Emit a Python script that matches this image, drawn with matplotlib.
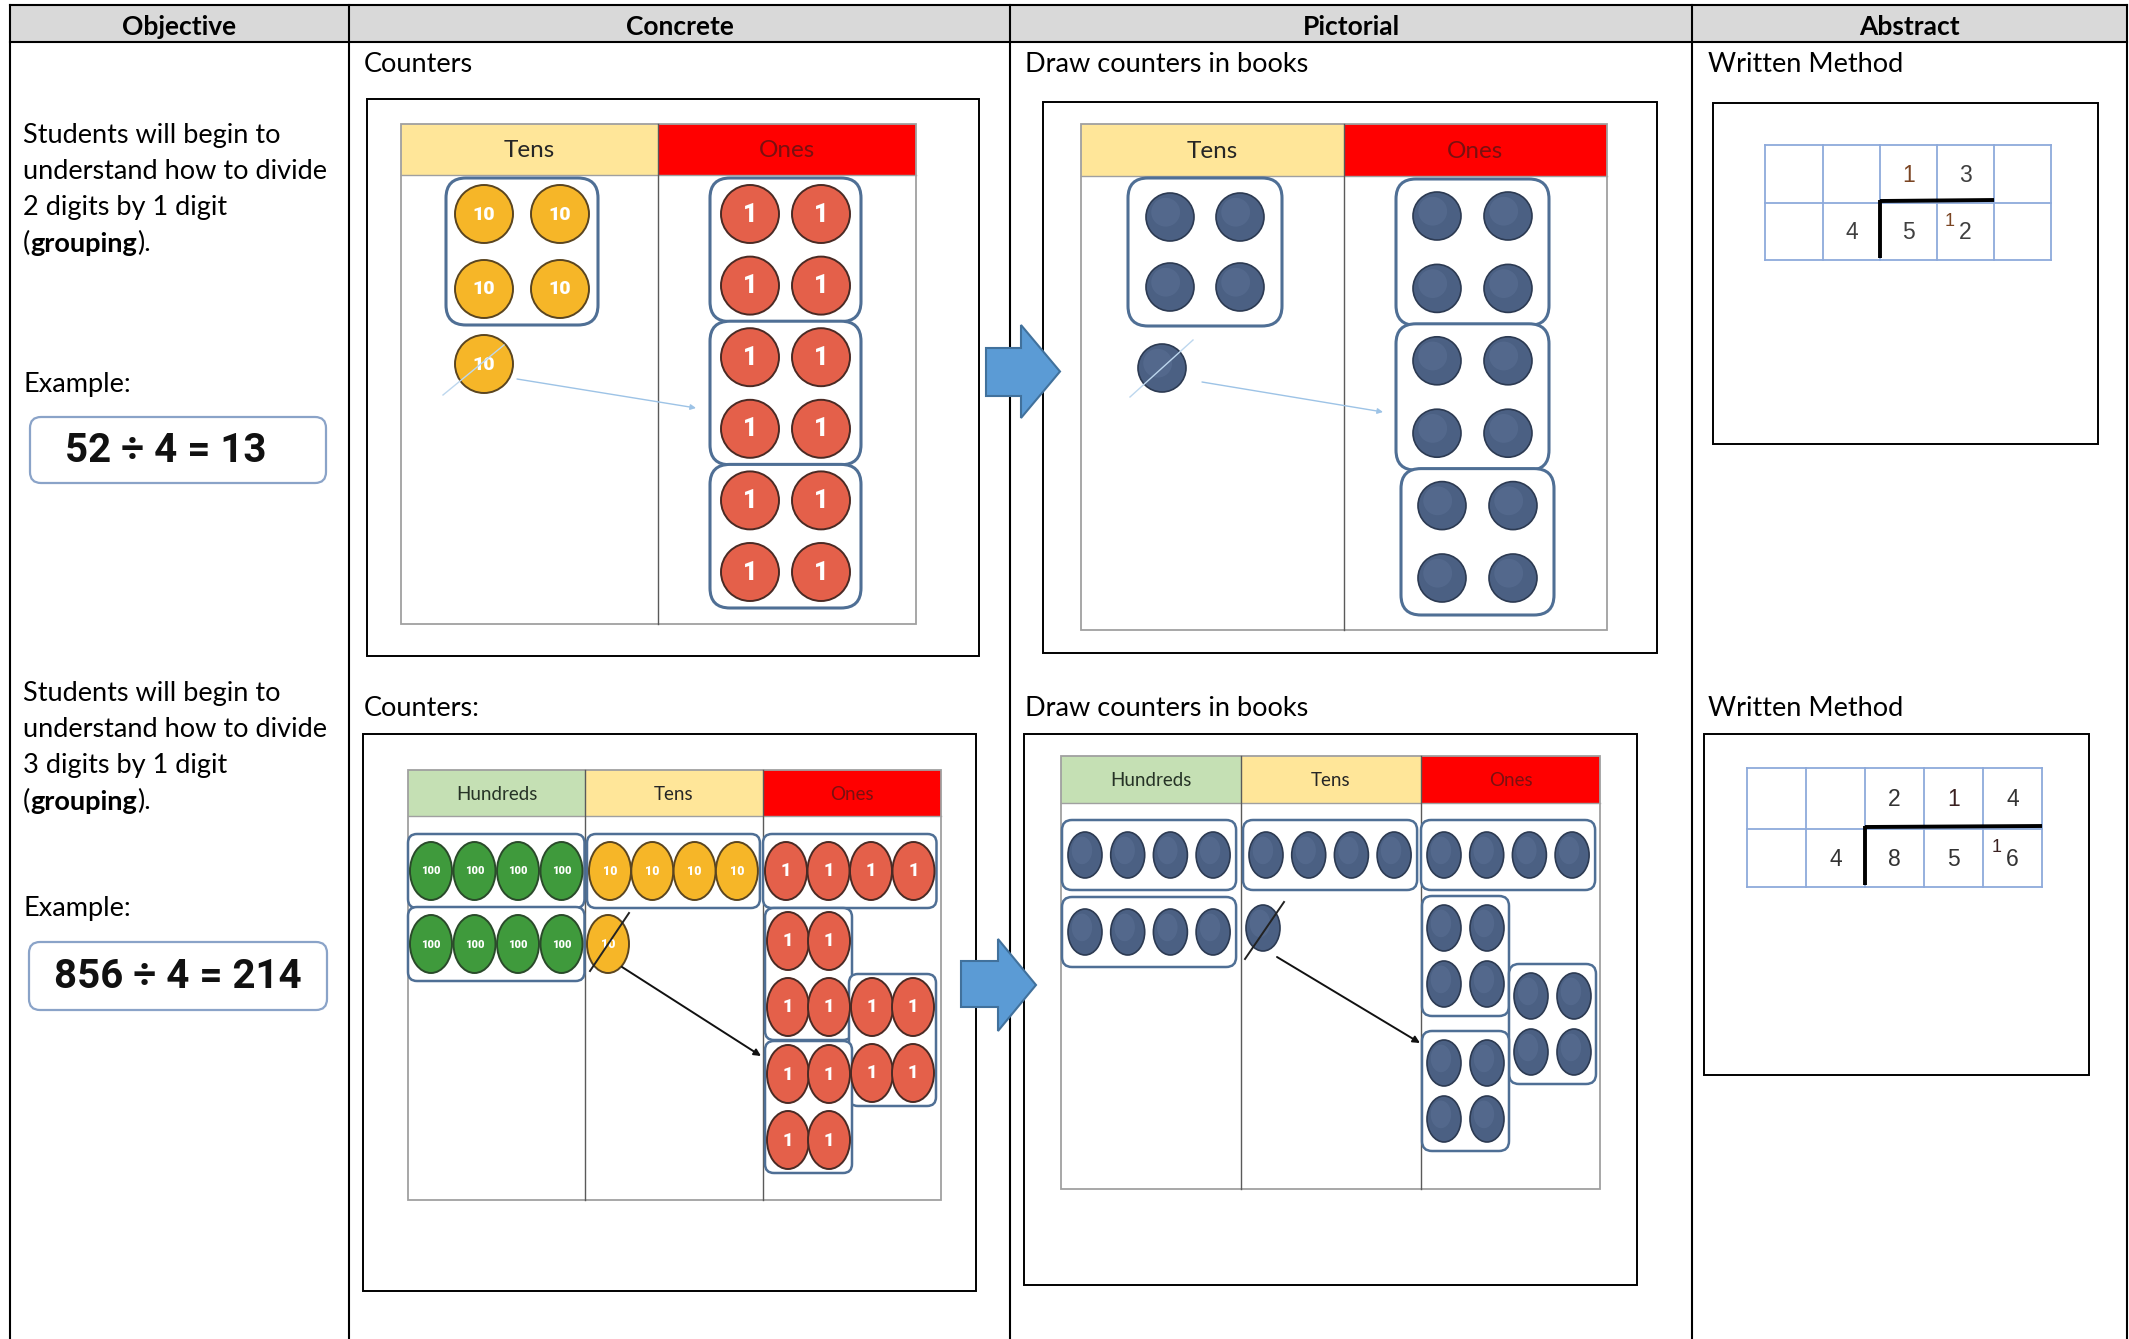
import matplotlib
matplotlib.use('Agg')
import matplotlib.pyplot as plt
from matplotlib.patches import Rectangle, Ellipse, FancyBboxPatch, Polygon, FancyArrowPatch

# ---------------- data ----------------
headers = ["Objective", "Concrete", "Pictorial", "Abstract"]
objective_lines_1 = ["Students will begin to", "understand how to divide", "2 digits by 1 digit"]
objective_lines_2 = ["Students will begin to", "understand how to divide", "3 digits by 1 digit"]
grouping_word = "grouping"
example_label = "Example:"
equations = ["52 \u00f7 4 = 13", "856 \u00f7 4 = 214"]
concrete_captions = ["Counters", "Counters:"]
pictorial_caption = "Draw counters in books"
abstract_caption = "Written Method"
place_values_1 = ["Tens", "Ones"]
place_values_2 = ["Hundreds", "Tens", "Ones"]
counter_labels = {"Hundreds": "100", "Tens": "10", "Ones": "1"}
# 52 / 4 : 4 tens grouped, 1 ten exchanged, 12 ones in 3 groups of 4
ex1_tens_grouped = 4
ex1_tens_exchanged = 1
ex1_ones_groups = [4, 4, 4]
# 856 / 4 : 2 groups of 4 hundreds, 1 group of 4 tens, 1 exchanged, 16 ones
ex2_hundreds_groups = [4, 4]
ex2_tens_groups = [4]
ex2_tens_exchanged = 1
ex2_ones_row = [4]
ex2_ones_groups = [4, 4, 4]
quotient_1 = ["", "", "1", "3", ""]
dividend_1 = ["", "4", "5", "2", ""]
carry_1 = ["", "", "", "1", ""]
quotient_2 = ["", "", "2", "1", "4"]
dividend_2 = ["", "4", "8", "5", "6"]
carry_2 = ["", "", "", "", "1"]

# ---------------- style ----------------
plt.rcParams['font.family'] = ['Lato', 'DejaVu Sans']
HEAD_FILL = '#d9d9d9'
PV_FILL = {"Hundreds": '#c5e0b4', "Tens": '#ffe699', "Ones": '#ff0000'}
PV_TEXT = {"Hundreds": '#263326', "Tens": '#262626', "Ones": '#7a1010'}
C_FILL = {"Hundreds": '#3f9a3c', "Tens": '#f6b628', "Ones": '#e4604a'}
C_EDGE = {"Hundreds": '#2a4a2a', "Tens": '#5a4520', "Ones": '#4a2a24'}
DOT_FILL = '#4b6083'
DOT_EDGE = '#2c3a52'
GROUP_EDGE = '#4f6f95'
GRID_BLUE = '#8eaadb'
LABEL_FONT = ['Roboto', 'DejaVu Sans']

W, H = 2129, 1339
fig = plt.figure(figsize=(W / 100, H / 100), dpi=100)
ax = fig.add_axes([0, 0, 1, 1])
ax.set_xlim(0, W)
ax.set_ylim(H, 0)
ax.axis('off')

# ---------------- main table ----------------
col_x = [9.5, 349, 1010, 1692, 2127]
head_top, head_bot = 5, 42
ax.add_patch(Rectangle((col_x[0], head_top), col_x[-1] - col_x[0], head_bot - head_top,
                       fc=HEAD_FILL, ec='none', zorder=0))
ax.plot([col_x[0], col_x[-1]], [head_top, head_top], color='black', lw=1.5)
ax.plot([col_x[0], col_x[-1]], [head_bot, head_bot], color='black', lw=1.5)
for x in col_x:
    ax.plot([x, x], [head_top, H], color='black', lw=1.5)
for i, h in enumerate(headers):
    ax.text((col_x[i] + col_x[i + 1]) / 2, 35, h, ha='center', va='baseline',
            fontsize=19, fontweight='bold')

BODY_FS = 19.5


def objective(lines, y0, ex_y, box, eq, eq_x):
    step = 36
    for k, ln in enumerate(lines):
        ax.text(23, y0 + k * step, ln, ha='left', va='baseline', fontsize=BODY_FS)
    yb = y0 + len(lines) * step
    t1 = ax.text(23, yb, "(", ha='left', va='baseline', fontsize=BODY_FS)
    t2 = ax.annotate(grouping_word, xy=(1, 0), xycoords=t1, ha='left', va='bottom',
                     fontsize=BODY_FS, fontweight='bold')
    ax.annotate(").", xy=(1, 0), xycoords=t2, ha='left', va='bottom', fontsize=BODY_FS)
    ax.text(23, ex_y, example_label, ha='left', va='baseline', fontsize=BODY_FS)
    x0, y0b, x1, y1b = box
    ax.add_patch(FancyBboxPatch((x0, y0b), x1 - x0, y1b - y0b,
                                boxstyle="round,pad=0,rounding_size=11",
                                ec='#8aa3c8', fc='white', lw=1.6))
    ax.text(eq_x, (y0b + y1b) / 2 + 1, eq, ha='center', va='center', fontsize=29,
            family=LABEL_FONT, fontweight='semibold', color='#111111')


objective(objective_lines_1, 143, 392, (30, 417, 326, 483), equations[0], 166)
objective(objective_lines_2, 701, 916, (29, 942, 327, 1010), equations[1], 178)

# captions
for y in (72, 716):
    ax.text(1025, y, pictorial_caption, ha='left', va='baseline', fontsize=BODY_FS)
    ax.text(1708, y, abstract_caption, ha='left', va='baseline', fontsize=BODY_FS)
ax.text(364, 72, concrete_captions[0], ha='left', va='baseline', fontsize=BODY_FS)
ax.text(364, 716, concrete_captions[1], ha='left', va='baseline', fontsize=BODY_FS)


def frame(x0, y0, x1, y1):
    ax.add_patch(Rectangle((x0, y0), x1 - x0, y1 - y0, fc='white', ec='black', lw=1.4, zorder=1))


def pv_table(edges, y_top, y_head, y_bot, names, fs):
    for i, n in enumerate(names):
        ax.add_patch(Rectangle((edges[i], y_top), edges[i + 1] - edges[i], y_head - y_top,
                               fc=PV_FILL[n], ec='none', zorder=2))
        ax.text((edges[i] + edges[i + 1]) / 2, (y_top + y_head) / 2 + 1, n, ha='center',
                va='center', fontsize=fs, color=PV_TEXT[n], zorder=3)
    ax.add_patch(Rectangle((edges[0], y_top), edges[-1] - edges[0], y_bot - y_top,
                           fc='none', ec='#a0a0a0', lw=1.3, zorder=3))
    ax.plot([edges[0], edges[-1]], [y_head, y_head], color='#a0a0a0', lw=1.0, zorder=3)
    for x in edges[1:-1]:
        ax.plot([x, x], [y_top, y_bot], color='#5a5a5a', lw=1.0, zorder=3)


def counter(x, y, rx, ry, kind, fs, pictorial=False):
    if pictorial:
        ax.add_patch(Ellipse((x, y), 2 * rx, 2 * ry, fc=DOT_FILL, ec=DOT_EDGE, lw=1.2, zorder=5))
        ax.add_patch(Ellipse((x - rx * 0.18, y - ry * 0.2), 1.2 * rx, 1.2 * ry, fc='#5a7095',
                             ec='none', alpha=0.55, zorder=5))
    else:
        ax.add_patch(Ellipse((x, y), 2 * rx, 2 * ry, fc=C_FILL[kind], ec=C_EDGE[kind], lw=1.4, zorder=5))
        ax.text(x, y + 0.5, counter_labels[kind], ha='center', va='center', fontsize=fs,
                color='white', fontweight='heavy', family=LABEL_FONT, zorder=6)


def group_box(pts, rx, ry, padx, pady, r, lw=1.8):
    xs = [p[0] for p in pts]
    ys = [p[1] for p in pts]
    x0 = min(xs) - rx - padx
    x1 = max(xs) + rx + padx
    y0 = min(ys) - ry - pady
    y1 = max(ys) + ry + pady
    ax.add_patch(FancyBboxPatch((x0, y0), x1 - x0, y1 - y0,
                                boxstyle=f"round,pad=0,rounding_size={r}",
                                ec=GROUP_EDGE, fc='white', lw=lw, zorder=4))


def block_arrow(x0, xb, yb0, yb1, yh0, yh1, tipx):
    tipy = (yh0 + yh1) / 2
    pts = [(x0, yb0), (xb, yb0), (xb, yh0), (tipx, tipy), (xb, yh1), (xb, yb1), (x0, yb1)]
    ax.add_patch(Polygon(pts, closed=True, fc='#5b9bd5', ec='#41719c', lw=1.5, zorder=8))


def line_arrow(p0, p1, color, lw, ms):
    ax.add_patch(FancyArrowPatch(p0, p1, arrowstyle='-|>', mutation_scale=ms, color=color,
                                 lw=lw, zorder=7, shrinkA=0, shrinkB=0))


# ================= Row 1 concrete =================
frame(367, 99, 979, 656)
pv_table([401, 658, 916], 124, 175, 624, place_values_1, 17.5)
R1 = 29
pts = []
for i in range(ex1_tens_grouped):
    pts.append((484 + (i % 2) * 76, 214 + (i // 2) * 75))
group_box(pts, R1, R1, 9, 7, 20, 2.2)
for p in pts:
    counter(p[0], p[1], R1, R1, "Tens", 14)
for j in range(ex1_tens_exchanged):
    counter(484, 214 + 2 * 75 + j * 75, R1, R1, "Tens", 14)
ax.plot([443, 504], [395, 345], color='#bdd7ee', lw=1.0, zorder=7)
line_arrow((517, 379), (696, 408), '#9dc3e6', 1.0, 8)
for g, n in enumerate(ex1_ones_groups):
    pts = [(750 + (i % 2) * 71, 214 + (2 * g + i // 2) * 71.6) for i in range(n)]
    group_box(pts, R1, R1, 11, 7, 20, 2.2)
    for p in pts:
        counter(p[0], p[1], R1, R1, "Ones", 18)

# ================= Row 1 pictorial =================
frame(1043, 102, 1657, 653)
pv_table([1081, 1344, 1607], 124, 176, 630, place_values_1, 17.5)
R2 = 24
pts = [(1170 + (i % 2) * 70, 217 + (i // 2) * 70) for i in range(ex1_tens_grouped)]
group_box(pts, R2, R2, 18, 15, 20, 2.2)
for p in pts:
    counter(p[0], p[1], R2, R2, "Tens", 0, pictorial=True)
for j in range(ex1_tens_exchanged):
    counter(1162, 368 + j * 70, R2, R2, "Tens", 0, pictorial=True)
ax.plot([1130, 1193], [397, 340], color='#bdd7ee', lw=1.0, zorder=7)
line_arrow((1202, 382), (1383, 412), '#9dc3e6', 1.0, 8)
for g, n in enumerate(ex1_ones_groups):
    xoff = 5 if g == 2 else 0
    pts = [(1437 + xoff + (i % 2) * 71, 216 + (2 * g + i // 2) * 72.4) for i in range(n)]
    group_box(pts, R2, R2, 17, 13, 20, 2.2)
    for p in pts:
        counter(p[0], p[1], R2, R2, "Ones", 0, pictorial=True)

block_arrow(986, 1021, 348, 396, 325, 418, 1060)

# ================= Row 2 concrete =================
frame(363, 734, 976, 1291)
pv_table([408, 585, 763, 941], 770, 816, 1200, place_values_2, 13.5)
RX, RY = 21, 29
PX = 43.5
for r, n in enumerate(ex2_hundreds_groups):
    pts = [(431 + i * PX, 871 + r * 73) for i in range(n)]
    group_box(pts, RX, RY, 2, 8, 9)
    for p in pts:
        counter(p[0], p[1], RX, RY, "Hundreds", 8)
for r, n in enumerate(ex2_tens_groups):
    pts = [(610 + i * 42.3, 871 + r * 73) for i in range(n)]
    group_box(pts, RX, RY, 2, 8, 9)
    for p in pts:
        counter(p[0], p[1], RX, RY, "Tens", 9)
for j in range(ex2_tens_exchanged):
    counter(608, 944, RX, RY, "Tens", 9)
ax.plot([590, 629], [971, 913], color='#222222', lw=1.4, zorder=7)
line_arrow((622, 967), (761, 1056), '#111111', 1.4, 10)
for r, n in enumerate(ex2_ones_row):
    pts = [(786 + i * 42.5, 871 + r * 73) for i in range(n)]
    group_box(pts, RX, RY, 2, 8, 9)
    for p in pts:
        counter(p[0], p[1], RX, RY, "Ones", 13)
ones2_starts = [(788, 941), (872, 1007), (788, 1074)]
for (sx, sy), n in zip(ones2_starts, ex2_ones_groups):
    pts = [(sx + (i % 2) * 41, sy + (i // 2) * 66) for i in range(n)]
    group_box(pts, RX, RY, 2, 4, 9)
    for p in pts:
        counter(p[0], p[1], RX, RY, "Ones", 13)

# ================= Row 2 pictorial =================
frame(1024, 734, 1637, 1285)
pv_table([1061, 1241, 1421, 1600], 756, 803, 1189, place_values_2, 13.5)
DX, DY = 17, 23
for r, n in enumerate(ex2_hundreds_groups):
    pts = [(1085 + i * 42.7, 855 + r * 77) for i in range(n)]
    group_box(pts, DX, DY, 6, 12, 10)
    for p in pts:
        counter(p[0], p[1], DX, DY, "Hundreds", 0, pictorial=True)
for r, n in enumerate(ex2_tens_groups):
    pts = [(1266 + i * 42.7, 855 + r * 77) for i in range(n)]
    group_box(pts, DX, DY, 6, 12, 10)
    for p in pts:
        counter(p[0], p[1], DX, DY, "Tens", 0, pictorial=True)
for j in range(ex2_tens_exchanged):
    counter(1263, 928, DX, DY, "Tens", 0, pictorial=True)
ax.plot([1245, 1284], [959, 902], color='#222222', lw=1.4, zorder=7)
line_arrow((1277, 957), (1420, 1043), '#111111', 1.4, 10)
for r, n in enumerate(ex2_ones_row):
    pts = [(1444 + i * 42.7, 855 + r * 77) for i in range(n)]
    group_box(pts, DX, DY, 6, 12, 10)
    for p in pts:
        counter(p[0], p[1], DX, DY, "Ones", 0, pictorial=True)
ones2p_starts = [(1444, 928), (1531, 996), (1444, 1063)]
for (sx, sy), n in zip(ones2p_starts, ex2_ones_groups):
    pts = [(sx + (i % 2) * 43, sy + (i // 2) * 56) for i in range(n)]
    group_box(pts, DX, DY, 5, 9, 10)
    for p in pts:
        counter(p[0], p[1], DX, DY, "Ones", 0, pictorial=True)

block_arrow(961, 998, 961, 1007, 939, 1031, 1036)


# ================= Abstract =================
def written(frame_box, xs, ys, quotient, dividend, carry, bracket_end, one_color, col):
    frame(*frame_box)
    for x in xs:
        ax.plot([x, x], [ys[0], ys[-1]], color=GRID_BLUE, lw=1.3, zorder=3)
    for y in ys:
        ax.plot([xs[0], xs[-1]], [y, y], color=GRID_BLUE, lw=1.3, zorder=3)
    for i in range(len(xs) - 1):
        cx = (xs[i] + xs[i + 1]) / 2
        for row, vals in enumerate((quotient, dividend)):
            cy = (ys[row] + ys[row + 1]) / 2
            if vals[i]:
                ax.text(cx, cy + 1, vals[i], ha='center', va='center', fontsize=16.5,
                        family=['Liberation Sans', 'DejaVu Sans'],
                        color=one_color if vals[i] == "1" else col, zorder=4)
        if carry[i]:
            cy = (ys[1] + ys[2]) / 2
            ax.text(cx - 16, cy - 10, carry[i], ha='center', va='center', fontsize=13,
                    family=['Liberation Sans', 'DejaVu Sans'], color=one_color, zorder=4)
    xb = xs[2]
    ax.plot([xb, xs[bracket_end]], [ys[1] - 2, ys[1] - 3], color='black', lw=2.8,
            solid_capstyle='butt', zorder=5)
    ax.plot([xb, xb], [ys[1] - 3, ys[2] - 2], color='black', lw=2.8,
            solid_capstyle='butt', zorder=5)


written((1713, 103, 2098, 444), [1765, 1823, 1880, 1937, 1994, 2051], [145, 203, 260],
        quotient_1, dividend_1, carry_1, 4, '#7a4422', '#404040')
written((1704, 734, 2089, 1075), [1747, 1806, 1865, 1924, 1983, 2042], [768, 829, 887],
        quotient_2, dividend_2, carry_2, 5, '#3a2020', '#333333')

fig.savefig('out.png', dpi=100)
